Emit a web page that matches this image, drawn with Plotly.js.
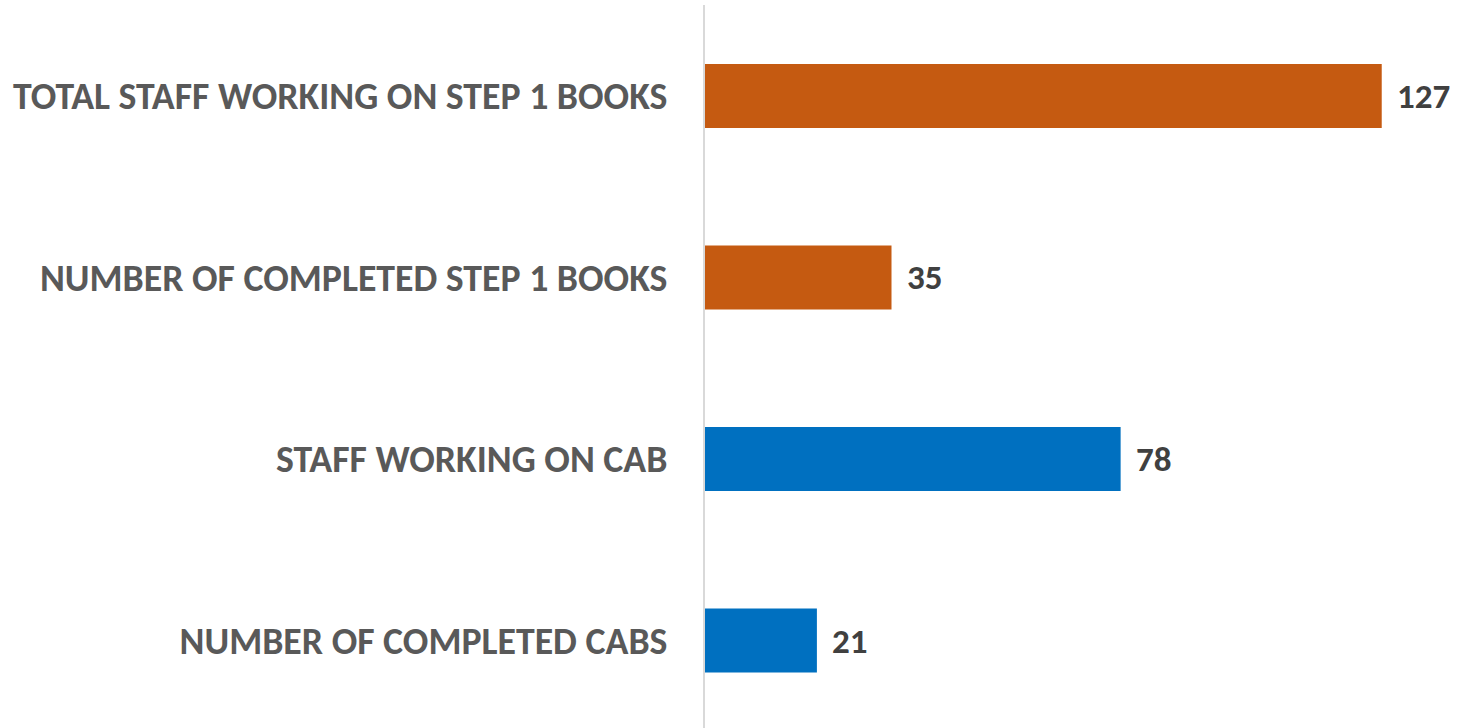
<!DOCTYPE html>
<html>
<head>
<meta charset="utf-8">
<script src="https://cdn.plot.ly/plotly-3.0.1.min.js"></script>
<style>html,body{margin:0;padding:0;background:#fff;}#chart{width:1464px;height:728px;}</style>
</head>
<body>
<div id="chart"></div>
<script>
const categories = [
  "TOTAL STAFF WORKING ON STEP 1 BOOKS",
  "NUMBER OF COMPLETED STEP 1 BOOKS",
  "STAFF WORKING ON CAB",
  "NUMBER OF COMPLETED CABS"
];
const values = [127, 35, 78, 21];
const barColors = ["#C55A11", "#C55A11", "#0070C0", "#0070C0"];

const FONT = "Carlito, Lato, 'Liberation Sans', sans-serif";

const trace = {
  type: "bar",
  orientation: "h",
  x: values,
  y: categories,
  marker: {color: barColors},
  hoverinfo: "x+y"
};

const annotations = values.map((v, i) => ({
  x: v, y: categories[i], xref: "x", yref: "y",
  text: String(v), showarrow: false, xanchor: "left", yanchor: "middle",
  xshift: 13,
  font: {family: FONT, size: 35, color: "#404040", weight: "bold"}
}));

const layout = {
  width: 1464, height: 728,
  margin: {l: 705, r: 13, t: 5, b: 0},
  paper_bgcolor: "#ffffff", plot_bgcolor: "#ffffff",
  showlegend: false,
  bargap: 0.647,
  xaxis: {range: [0, 140], showgrid: false, zeroline: false, showticklabels: false, showline: false, fixedrange: true},
  yaxis: {
    type: "category", range: [3.482, -0.501],
    showline: true, linecolor: "#d9d9d9", linewidth: 2,
    showgrid: false, zeroline: false, ticks: "",
    ticklabelstandoff: 28,
    tickfont: {family: FONT, size: 37.8, color: "#595959", weight: "bold"}
  },
  annotations: annotations
};

Plotly.newPlot("chart", [trace], layout, {displayModeBar: false, staticPlot: true});
</script>
</body>
</html>
